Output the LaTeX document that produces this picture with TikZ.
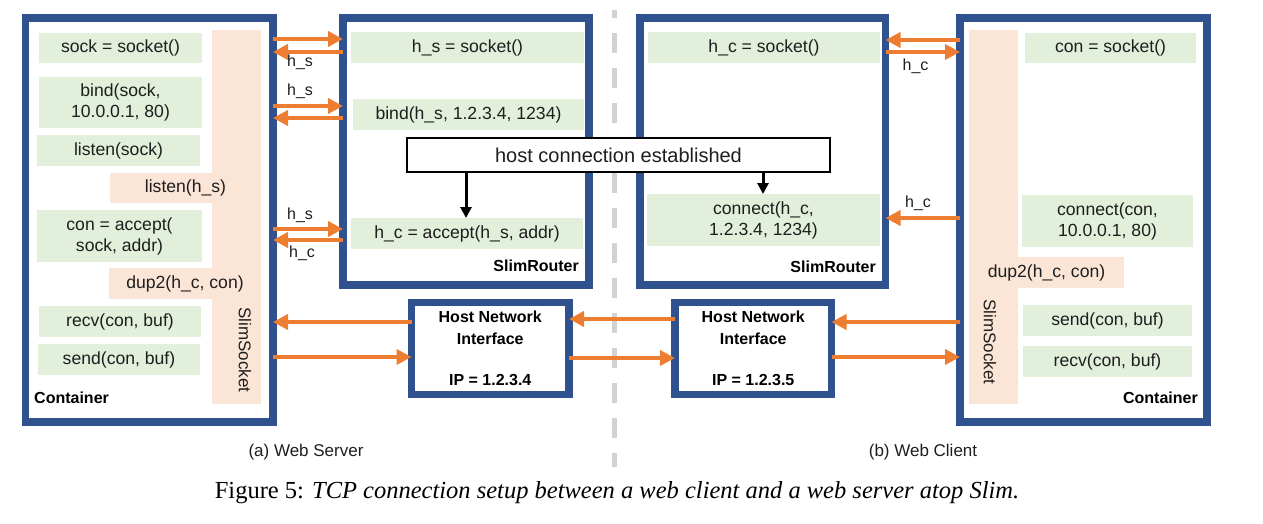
\documentclass[tikz,border=0pt]{standalone}
\usepackage{fontspec}
\setmainfont{Liberation Sans}
\newfontfamily\capfont{Liberation Serif}
\usetikzlibrary{arrows.meta}
\definecolor{bblue}{RGB}{47,82,143}
\definecolor{gfill}{RGB}{226,239,218}
\definecolor{pfill}{RGB}{251,229,214}
\definecolor{oarr}{RGB}{237,125,49}
\definecolor{txt}{RGB}{30,30,30}
\definecolor{dgray}{RGB}{210,210,210}
\newcommand\mybox[7]{\node[#1,minimum width={(#5-#3)*1pt},minimum height={(#6-#4)*1pt}] (#2) at ({(#3+#5)/2},{(#4+#6)/2}) {#7};}
\begin{document}
\begin{tikzpicture}[x=1pt,y=-1pt,
 frame/.style={draw=bblue, line width=7.5pt, fill=white, inner sep=0pt, outer sep=0pt},
 gbox/.style={fill=gfill, inner sep=0pt, outer sep=0pt, align=center, font=\fontsize{17.6}{21}\selectfont, text=txt},
 pbox/.style={fill=pfill, inner sep=0pt, outer sep=0pt, align=center, font=\fontsize{17.6}{21}\selectfont, text=txt},
 hni/.style={frame, align=center, font=\fontsize{16}{22}\selectfont\bfseries},
 hostbox/.style={draw=black, line width=1.2pt, fill=white, inner sep=0pt, outer sep=0pt, font=\fontsize{20}{24}\selectfont, text=txt},
 blabel/.style={font=\fontsize{16}{19}\selectfont\bfseries, inner sep=0pt},
 hlabel/.style={font=\fontsize{16}{19}\selectfont, inner sep=0pt, text=txt},
 vlabel/.style={rotate=-90, font=\fontsize{17}{20}\selectfont, inner sep=0pt, text=txt},
 oarrow/.style={draw=oarr, line width=4pt, -{Triangle[length=15pt,width=15pt]}},
 karrow/.style={draw=black, line width=3pt, -{Triangle[length=11pt,width=11pt]}},
 sepline/.style={draw=dgray, line width=5pt, dash pattern=on 20pt off 15pt, dash phase=12pt},
]
\useasboundingbox (0,0) rectangle (1263,524);
% separator
\coordinate (st) at (614.5,10);
\coordinate (sb) at (614.5,467);
\draw[sepline] (st) -- (sb);
% frames
\mybox{frame}{lc}{25.5}{18}{273}{422}{}
\mybox{frame}{lr}{343}{18}{589}{285}{}
\mybox{frame}{rr}{640}{18}{885.5}{285}{}
\mybox{frame}{rc}{960}{18}{1207}{422}{}
\mybox{hni}{hl}{411.5}{302.5}{569}{394.5}{Host Network\\Interface\\[19pt]IP = 1.2.3.4}
\mybox{hni}{hr}{675}{302.5}{831.5}{394.5}{Host Network\\Interface\\[19pt]IP = 1.2.3.5}
% SlimSocket bars and tabs
\mybox{pbox}{lbar}{212}{30}{261}{404}{}
\mybox{pbox}{lt1}{110}{173}{261}{203}{listen(h\_s)}
\mybox{pbox}{lt2}{109}{268}{261}{299}{dup2(h\_c, con)}
\node[vlabel] (lss) at (245,350) {SlimSocket};
\mybox{pbox}{rbar}{969}{30}{1018}{404}{}
\mybox{pbox}{rt1}{969}{257}{1124}{288}{dup2(h\_c, con)}
\node[vlabel] (rss) at (990,342) {SlimSocket};
% left container boxes
\mybox{gbox}{g1}{39}{33}{202}{63}{sock = socket()}
\mybox{gbox}{g2}{39}{77}{202}{128}{bind(sock,\\10.0.0.1, 80)}
\mybox{gbox}{g3}{37}{135}{200}{166}{listen(sock)}
\mybox{gbox}{g4}{37}{210}{202}{262}{con = accept(\\sock, addr)}
\mybox{gbox}{g5}{39}{306}{201}{337}{recv(con, buf)}
\mybox{gbox}{g6}{38}{344}{200}{375}{send(con, buf)}
\node[blabel, anchor=west] (lcl) at (34,398) {Container};
% left router
\mybox{gbox}{g7}{351}{32}{584}{63}{h\_s = socket()}
\mybox{gbox}{g8}{353}{99}{584}{130}{bind(h\_s, 1.2.3.4, 1234)}
\mybox{gbox}{g9}{351}{218}{583}{249}{h\_c = accept(h\_s, addr)}
\node[blabel, anchor=east] (lrl) at (579,266) {SlimRouter};
% right router
\mybox{gbox}{g10}{648}{32}{880}{63}{h\_c = socket()}
\mybox{gbox}{g11}{647}{194}{880}{246}{connect(h\_c,\\1.2.3.4, 1234)}
\node[blabel, anchor=east] (rrl) at (876,267) {SlimRouter};
% right container
\mybox{gbox}{g12}{1025}{33}{1196}{63}{con = socket()}
\mybox{gbox}{g13}{1022}{195}{1193}{247}{connect(con,\\10.0.0.1, 80)}
\mybox{gbox}{g14}{1023}{305}{1192}{336}{send(con, buf)}
\mybox{gbox}{g15}{1023}{346}{1192}{377}{recv(con, buf)}
\node[blabel, anchor=east] (rcl) at (1198,398) {Container};
% host connection box
\mybox{hostbox}{hc}{407}{138}{830}{172}{host connection established}
\draw[karrow] (hc.south -| 466,0) -- (g9.north -| 466,0);
\draw[karrow] (hc.south -| 763,0) -- (g11.north -| 763,0);
% orange arrows, left side
\draw[oarrow] (lc.east |- 0,39) -- (lr.west |- 0,39);
\draw[oarrow] (lr.west |- 0,52) -- (lc.east |- 0,52);
\node[hlabel] (l1) at (300,62.5) {h\_s};
\node[hlabel] (l2) at (300,91) {h\_s};
\draw[oarrow] (lc.east |- 0,106) -- (lr.west |- 0,106);
\draw[oarrow] (lr.west |- 0,118) -- (lc.east |- 0,118);
\node[hlabel] (l3) at (300,215) {h\_s};
\draw[oarrow] (lc.east |- 0,229) -- (lr.west |- 0,229);
\draw[oarrow] (lr.west |- 0,240) -- (lc.east |- 0,240);
\node[hlabel] (l4) at (302,253.5) {h\_c};
\draw[oarrow] (hl.west |- 0,322) -- (lc.east |- 0,322);
\draw[oarrow] (lc.east |- 0,357) -- (hl.west |- 0,357);
% middle
\draw[oarrow] (hr.west |- 0,319) -- (hl.east |- 0,319);
\draw[oarrow] (hl.east |- 0,358) -- (hr.west |- 0,358);
% right side
\draw[oarrow] (rc.west |- 0,322) -- (hr.east |- 0,322);
\draw[oarrow] (hr.east |- 0,357) -- (rc.west |- 0,357);
\draw[oarrow] (rc.west |- 0,40) -- (rr.east |- 0,40);
\draw[oarrow] (rr.east |- 0,52) -- (rc.west |- 0,52);
\node[hlabel] (r1) at (915.5,66.5) {h\_c};
\node[hlabel] (r2) at (918,203) {h\_c};
\draw[oarrow] (rc.west |- 0,218) -- (rr.east |- 0,218);
% captions
\node[font=\fontsize{17}{20}\selectfont, anchor=base, inner sep=0pt, text=txt] (capa) at (306,456) {(a) Web Server};
\node[font=\fontsize{17}{20}\selectfont, anchor=base, inner sep=0pt, text=txt] (capb) at (923,456) {(b) Web Client};
\node[font=\capfont\fontsize{24.5}{28}\selectfont, anchor=base, inner sep=0pt] (fig) at (617,498) {Figure 5: \textit{TCP connection setup between a web client and a web server atop Slim.}};
\end{tikzpicture}
\end{document}
